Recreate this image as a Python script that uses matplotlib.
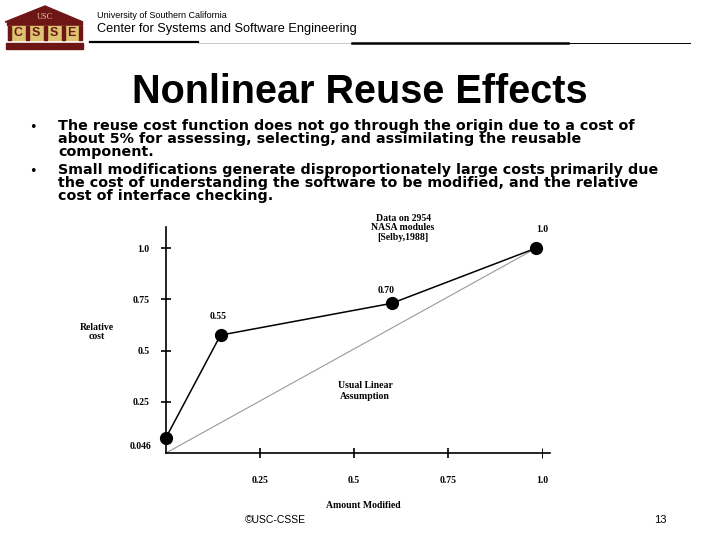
import matplotlib
matplotlib.use('Agg')
import matplotlib.pyplot as plt
from matplotlib.patches import Polygon, Rectangle

# data (Selby 1988, NASA modules)
amount = [0.0, 0.145, 0.6, 0.985]
cost = [0.075, 0.575, 0.73, 1.0]
point_labels = ['0.046', '0.55', '0.70', '1.0']
x_ticks = [0.25, 0.5, 0.75, 1.0]
x_tick_labels = ['0.25', '0.5', '0.75', '1.0']
y_ticks = [0.25, 0.5, 0.75, 1.0]
y_tick_labels = ['0.25', '0.5', '0.75', '1.0']

title = 'Nonlinear Reuse Effects'
bullets = [
    ['The reuse cost function does not go through the origin due to a cost of',
     'about 5% for assessing, selecting, and assimilating the reusable',
     'component.'],
    ['Small modifications generate disproportionately large costs primarily due',
     'the cost of understanding the software to be modified, and the relative',
     'cost of interface checking.'],
]

SERIF = 'Liberation Serif'
SANS = 'Liberation Sans'
MAROON = '#6e1616'

fig = plt.figure(figsize=(7.2, 5.4), dpi=100)
renderer = fig.canvas.get_renderer()

# background axes in pixel coords for the slide decoration
bg = fig.add_axes([0, 0, 1, 1])
bg.set_xlim(0, 720)
bg.set_ylim(540, 0)
bg.axis('off')


def fit(t, width_px):
    w = t.get_window_extent(renderer).width
    t.set_fontsize(t.get_fontsize() * width_px / w)
    return t.get_fontsize()


# logo
bg.add_patch(Polygon([(5, 22), (45, 6), (83, 22)], closed=True, color=MAROON))
bg.add_patch(Rectangle((7, 22), 75, 3, color=MAROON))
bg.text(45, 17, 'USC', ha='center', va='center', fontsize=6, color='#e6c29a', family=SERIF)
bg.add_patch(Rectangle((8, 26), 73, 14, color='#dcc470'))
for bx in [8, 26, 44, 62, 79]:
    bg.add_patch(Rectangle((bx, 26), 2.5, 14, color=MAROON))
for bx, letter in zip([18, 36, 54, 71], 'CSSE'):
    bg.text(bx, 33.5, letter, ha='center', va='center', fontsize=9, color=MAROON,
            family=SANS, fontweight='bold')
bg.add_patch(Rectangle((6, 43), 77, 6, color=MAROON))

# header
t = bg.text(97, 18, 'University of Southern California', fontsize=7, family=SANS, va='baseline')
fit(t, 129)
t = bg.text(97, 32, 'Center for Systems and Software Engineering', fontsize=9, family=SANS, va='baseline')
fit(t, 260)
bg.plot([90, 198], [42, 42], color='black', lw=1.6)
bg.plot([198, 352], [42.5, 42.5], color='0.75', lw=0.6)
bg.plot([352, 568], [42.5, 42.5], color='black', lw=1.8)
bg.plot([568, 690], [42.5, 42.5], color='black', lw=0.7)

# title
t = bg.text(360, 103, title, ha='center', va='baseline', fontsize=26, family=SANS, fontweight='bold')
fit(t, 456)

# bullets: one text per bullet, tight line spacing like the slide
bfont = dict(family='DejaVu Sans', fontweight='bold')
t = bg.text(58, 131, bullets[0][0], va='baseline', fontsize=10, **bfont)
fs = fit(t, 575)
t.set_text('Ag\nAg')
t.set_linespacing(1.0)
t1 = bg.text(0, 0, 'Ag', fontsize=fs, **bfont)
step = t.get_window_extent(renderer).height - t1.get_window_extent(renderer).height
t.remove()
t1.remove()
gap = 12.3
ls = gap / step
for lines, y0 in zip(bullets, [131, 175]):
    bg.text(33, y0 - 4, '\u2022', ha='center', va='center', fontsize=fs * 0.9, family='DejaVu Sans')
    # baseline alignment anchors the last line
    bg.text(58, y0 + gap * (len(lines) - 1), '\n'.join(lines), va='baseline', ha='left',
            ma='left', fontsize=fs, linespacing=ls, **bfont)

# footer
bg.text(275, 520, '\u00a9USC-CSSE', ha='center', va='center', fontsize=7.5, family=SANS)
bg.text(660, 520, '13', ha='center', va='center', fontsize=8, family=SANS)

# chart labels
lbl = dict(ha='center', va='center', fontsize=7, family=SERIF, fontweight='bold')
bg.text(97, 332, 'Relative\ncost', linespacing=1.1, **lbl)
bg.text(363, 506, 'Amount Modified', **lbl)
bg.text(403, 228, 'Data on 2954\nNASA modules\n[Selby,1988]', linespacing=1.1, **lbl)
bg.text(365, 391, 'Usual Linear\nAssumption', linespacing=1.15, **lbl)

# chart axes: origin at (166, 453) px, 376 px per unit in x, 205 px in y
xmax, ymax = 1.02, 1.10
ax = fig.add_axes([166 / 720, (540 - 453) / 540, xmax * 376 / 720, ymax * 205 / 540])
ax.patch.set_visible(False)
ax.set_xlim(0, xmax)
ax.set_ylim(0, ymax)
for s in ['top', 'right']:
    ax.spines[s].set_visible(False)
for s in ['left', 'bottom']:
    ax.spines[s].set_linewidth(1.2)

ax.plot([0, amount[-1]], [0, cost[-1]], color='0.6', lw=0.8, zorder=2)
ax.plot(amount, cost, color='black', lw=1.1, marker='o', markersize=8.5, zorder=3, clip_on=False)

offsets = [(-25, -9), (-2, 19), (-5, 13), (6, 19)]
for x, y, s, (dx, dy) in zip(amount, cost, point_labels, offsets):
    ax.annotate(s, (x, y), xytext=(dx * 0.72, dy * 0.72), textcoords='offset points',
                ha='center', va='center', fontsize=7, family=SERIF, fontweight='bold')

ax.set_xticks(x_ticks)
ax.set_xticklabels(x_tick_labels, fontsize=7, family=SERIF, fontweight='bold')
ax.set_yticks(y_ticks)
ax.set_yticklabels(y_tick_labels, fontsize=7, family=SERIF, fontweight='bold')
ax.tick_params(axis='x', direction='inout', length=7.5, width=1.2, pad=13)
ax.tick_params(axis='y', direction='inout', length=7.5, width=1.2, pad=8)
ax.xaxis.get_major_ticks()[-1].tick1line.set_color('0.6')
ax.xaxis.get_major_ticks()[-1].tick1line.set_markeredgewidth(0.7)

fig.savefig('out.png', dpi=100)
